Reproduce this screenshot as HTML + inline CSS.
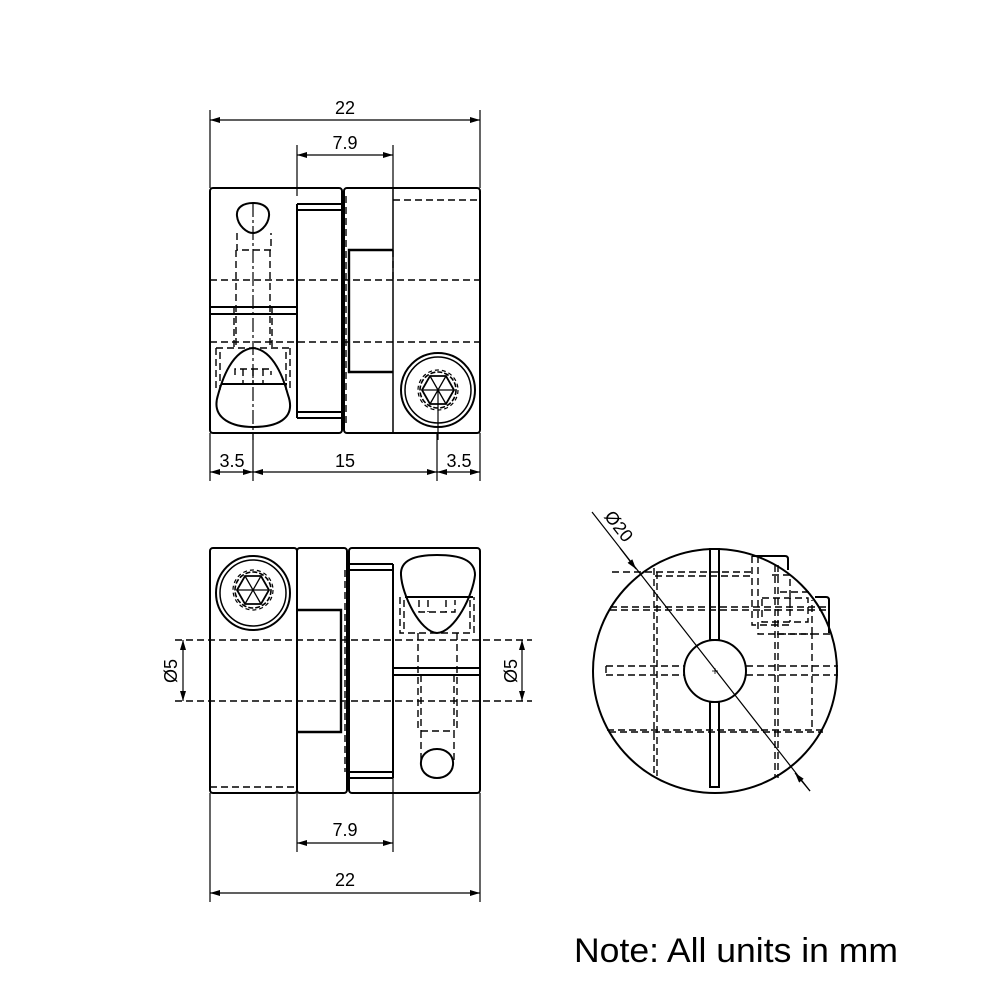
<!DOCTYPE html>
<html><head><meta charset="utf-8"><style>
html,body{margin:0;padding:0;background:#fff}
svg{display:block}
text{font-family:"Liberation Sans",sans-serif;fill:#000}
</style></head><body>
<svg width="1000" height="1000" viewBox="0 0 1000 1000" xmlns="http://www.w3.org/2000/svg">
<defs>
<marker id="a" viewBox="0 0 10 6" refX="10" refY="3" markerWidth="14" markerHeight="6" markerUnits="userSpaceOnUse" orient="auto-start-reverse"><path d="M0,0L10,3L0,6z" fill="#000"/></marker>
</defs>
<g fill="none" stroke="#000" stroke-width="1.2">
<!-- ===== TOP VIEW ===== -->
<line x1="210" y1="110" x2="210" y2="188"/><line x1="480" y1="110" x2="480" y2="188"/>
<line x1="210" y1="120" x2="480" y2="120" marker-start="url(#a)" marker-end="url(#a)"/>
<line x1="297" y1="145" x2="297" y2="196"/><line x1="393" y1="145" x2="393" y2="188"/>
<line x1="297" y1="155" x2="393" y2="155" marker-start="url(#a)" marker-end="url(#a)"/>
<line x1="210" y1="433" x2="210" y2="481"/><line x1="253" y1="433" x2="253" y2="481"/>
<line x1="437" y1="433" x2="437" y2="481"/><line x1="480" y1="433" x2="480" y2="481"/>
<line x1="210" y1="472" x2="253" y2="472" marker-start="url(#a)" marker-end="url(#a)"/>
<line x1="253" y1="472" x2="437" y2="472" marker-start="url(#a)" marker-end="url(#a)"/>
<line x1="437" y1="472" x2="480" y2="472" marker-start="url(#a)" marker-end="url(#a)"/>
<g stroke-width="2">
<rect x="210" y="188" width="132" height="245" rx="3"/>
<rect x="344" y="188" width="136" height="245" rx="3"/>
<line x1="393" y1="188" x2="393" y2="433" stroke-width="1.5"/>
<path d="M297,204 H342 M297,210 H342 M297,204 V418 M297,412 H342 M297,418 H342"/>
<path d="M393,250 H349 V372 H393" stroke-width="2.4"/>
<line x1="210" y1="307" x2="297" y2="307"/><line x1="210" y1="314" x2="297" y2="314"/>
<path d="M253,203 C262,203 270,207 269,216 C268,226 259,233 253,233 C247,233 238,226 237,216 C236,207 244,203 253,203 Z"/>
<path d="M253,348 C232,350 222,380 218,395 C210,420 235,427 253,427 C275,427 297,420 288,395 C284,380 274,350 253,348 Z"/>
<line x1="221" y1="384" x2="287" y2="384"/>
<circle cx="438" cy="390" r="37"/>
<circle cx="438" cy="390" r="33" stroke-width="1.5"/>
<polygon points="422,390 430,376 446,376 454,390 446,404 430,404" stroke-width="1.8"/>
<path d="M430,376 L446,404 M446,376 L430,404 M422,390 H454" stroke-width="1.3"/>
</g>
<circle cx="438" cy="390" r="18" stroke-dasharray="5 2" stroke-width="1.6"/>
<circle cx="438" cy="390" r="20" stroke-dasharray="4 3" stroke-width="1.2"/>
<g stroke-dasharray="7 4" stroke-width="1.4">
<line x1="210" y1="280" x2="480" y2="280"/><line x1="210" y1="342" x2="480" y2="342"/>
<line x1="393" y1="200" x2="480" y2="200"/>
<line x1="342" y1="196" x2="342" y2="425"/><line x1="346" y1="196" x2="346" y2="425"/>
<line x1="393" y1="250" x2="393" y2="280"/>
<path d="M237,233 V250 H271 V233 M236,250 V348 M270,250 V348 M234,307 V348 M272,307 V348"/>
<path d="M216,348 V390 M290,348 V390 M216,348 H290 M220,352 V390 M286,352 V390"/>
<path d="M235,375 V369 H271 V375 M243,369 V384 M253,369 V384 M263,369 V384"/>
</g>
<line x1="253" y1="203" x2="253" y2="440" stroke-dasharray="14 3 3 3"/>
<line x1="438" y1="390" x2="438" y2="440"/>

<!-- ===== BOTTOM VIEW ===== -->
<g stroke-width="2">
<rect x="210" y="548" width="87" height="245" rx="3"/>
<rect x="297" y="548" width="50" height="245" rx="3"/>
<rect x="349" y="548" width="131" height="245" rx="3"/>
<path d="M349,564 H393 M349,570 H393 M393,564 V778 M349,772 H393 M349,778 H393"/>
<path d="M297,610 H341 V732 H297" stroke-width="2.4"/>
<line x1="393" y1="668" x2="480" y2="668"/><line x1="393" y1="675" x2="480" y2="675"/>
<circle cx="253" cy="593" r="37"/>
<circle cx="253" cy="593" r="33" stroke-width="1.5"/>
<polygon points="237,590 245,576 261,576 269,590 261,604 245,604" stroke-width="1.8"/>
<path d="M245,576 L261,604 M261,576 L245,604 M237,590 H269" stroke-width="1.3"/>
<path d="M437,555 C415,555 400,560 401,575 C402,595 420,632 437,633 C455,632 473,595 475,575 C475,560 460,555 437,555 Z"/>
<line x1="405" y1="597" x2="473" y2="597"/>
<path d="M437,749 C446,749 454,755 453,765 C452,774 444,778 437,778 C430,778 422,774 421,765 C420,755 428,749 437,749 Z"/>
</g>
<circle cx="253" cy="590" r="18" stroke-dasharray="5 2" stroke-width="1.6"/>
<circle cx="253" cy="590" r="20" stroke-dasharray="4 3" stroke-width="1.2"/>
<g stroke-dasharray="7 4" stroke-width="1.4">
<line x1="175" y1="640" x2="532" y2="640"/><line x1="175" y1="701" x2="532" y2="701"/>
<line x1="210" y1="787" x2="297" y2="787"/>
<line x1="297" y1="610" x2="297" y2="640"/><line x1="297" y1="701" x2="297" y2="732"/>
<line x1="345" y1="570" x2="345" y2="772"/><line x1="349" y1="570" x2="349" y2="772"/>
<path d="M400,597 V633 H474 V597 M404,600 V630 M470,600 V630"/>
<path d="M418,633 V731 M457,633 V731 M421,675 V731 M454,675 V731 M421,731 H454 M421,731 V760 M454,731 V760"/>
<path d="M419,600 V612 H455 V600 M428,600 V612 M446,600 V612"/>
</g>
<line x1="393" y1="778" x2="393" y2="852"/>
<line x1="297" y1="793" x2="297" y2="852"/>
<line x1="297" y1="843" x2="393" y2="843" marker-start="url(#a)" marker-end="url(#a)"/>
<line x1="210" y1="793" x2="210" y2="902"/><line x1="480" y1="793" x2="480" y2="902"/>
<line x1="210" y1="893" x2="480" y2="893" marker-start="url(#a)" marker-end="url(#a)"/>
<line x1="183" y1="640" x2="183" y2="701" marker-start="url(#a)" marker-end="url(#a)"/>
<line x1="522" y1="640" x2="522" y2="701" marker-start="url(#a)" marker-end="url(#a)"/>

<!-- ===== END VIEW ===== -->
<circle cx="715" cy="671" r="122" stroke-width="2"/>
<circle cx="715" cy="671" r="31" stroke-width="2"/>
<path d="M710,549 H719 V640 H710 Z M710,702 H719 V787 H710 Z" stroke-width="2" fill="#fff"/>
<path d="M752,556 H785 Q788,556 788,559 V570 M815,597 H826 Q829,597 829,600 V633" stroke-width="2"/>
<g stroke-dasharray="7 4" stroke-width="1.4">
<line x1="612" y1="572" x2="752" y2="572"/><line x1="655" y1="576" x2="752" y2="576"/>
<line x1="610" y1="607" x2="830" y2="607"/><line x1="610" y1="610" x2="830" y2="610"/>
<line x1="607" y1="730" x2="823" y2="730"/><line x1="609" y1="732" x2="823" y2="732"/>
<path d="M606,666 H684 M746,666 H838 M606,675 H684 M746,675 H838 M606,666 V675"/>
<line x1="654" y1="568" x2="654" y2="776"/><line x1="657" y1="572" x2="657" y2="776"/>
<line x1="775" y1="565" x2="775" y2="778"/><line x1="778" y1="565" x2="778" y2="778"/>
<path d="M777,634 H812 V730 M812,634 V600"/>
<path d="M752,556 V625 H790 M758,556 V634 H830 M772,575 H790 V608 M762,598 H808 V622 H762 Z M780,592 H810 M790,598 V622"/>
</g>
<path d="M712,671 H718 M715,668 V674" stroke-width="0.8"/>
<line x1="592" y1="512" x2="810" y2="791"/>
<line x1="620" y1="548" x2="636" y2="569" marker-end="url(#a)"/>
<line x1="810" y1="791" x2="795" y2="773" marker-end="url(#a)"/>
</g>
<g font-size="18">
<text x="345" y="114" text-anchor="middle">22</text>
<text x="345" y="149" text-anchor="middle">7.9</text>
<text x="232" y="467" text-anchor="middle">3.5</text>
<text x="345" y="467" text-anchor="middle">15</text>
<text x="459" y="467" text-anchor="middle">3.5</text>
<text x="345" y="836" text-anchor="middle">7.9</text>
<text x="345" y="886" text-anchor="middle">22</text>
<text transform="translate(177,671) rotate(-90)" text-anchor="middle">Ø5</text>
<text transform="translate(517,671) rotate(-90)" text-anchor="middle">Ø5</text>
<text transform="translate(614,530) rotate(52)" text-anchor="middle">Ø20</text>
</g>
<text x="574" y="962" font-size="34" textLength="324" lengthAdjust="spacingAndGlyphs">Note: All units in mm</text>
</svg>
</body></html>
